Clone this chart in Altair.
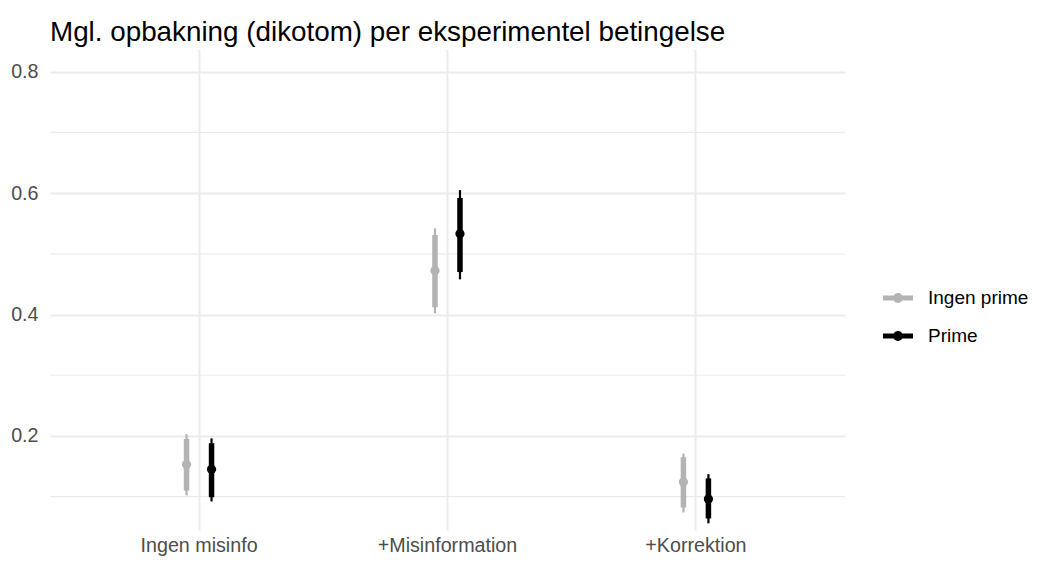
import altair as alt
import pandas as pd

# ---- data ----
conditions = ["Ingen misinfo", "+Misinformation", "+Korrektion"]
groups = ["Ingen prime", "Prime"]

est_ingen = [0.153, 0.472, 0.124]
lo90_ingen = [0.110, 0.412, 0.082]
hi90_ingen = [0.195, 0.531, 0.165]
lo95_ingen = [0.102, 0.402, 0.074]
hi95_ingen = [0.203, 0.542, 0.171]

est_prime = [0.145, 0.533, 0.096]
lo90_prime = [0.099, 0.470, 0.064]
hi90_prime = [0.188, 0.592, 0.130]
lo95_prime = [0.092, 0.458, 0.056]
hi95_prime = [0.196, 0.605, 0.137]

major_ticks = [0.2, 0.4, 0.6, 0.8]
minor_ticks = [0.1, 0.3, 0.5, 0.7]

title_text = "Mgl. opbakning (dikotom) per eksperimentel betingelse"

rows = []
for i, c in enumerate(conditions):
    rows.append(dict(cond=c, grp=groups[0], est=est_ingen[i], lo90=lo90_ingen[i],
                     hi90=hi90_ingen[i], lo95=lo95_ingen[i], hi95=hi95_ingen[i]))
    rows.append(dict(cond=c, grp=groups[1], est=est_prime[i], lo90=lo90_prime[i],
                     hi90=hi90_prime[i], lo95=lo95_prime[i], hi95=hi95_prime[i]))
df = pd.DataFrame(rows)
minor_df = pd.DataFrame({"v": minor_ticks})

FONT = "Liberation Sans"
GRID = "#EBEBEB"
AX = 19.7

yscale = alt.Scale(domain=[0.045, 0.8375], nice=False, zero=False)
xscale = alt.Scale(type="band", domain=conditions, paddingInner=0, paddingOuter=0.1)
color_scale = alt.Scale(domain=groups, range=["#B3B3B3", "#000000"])
offset_scale = alt.Scale(domain=groups, range=[99.2, 149.2], paddingInner=0, paddingOuter=0)

x_enc = alt.X("cond:N", scale=xscale, sort=conditions,
              axis=alt.Axis(title=None, labelAngle=0, grid=True, gridColor=GRID, gridWidth=2,
                            domain=False, ticks=False, tickSize=0, labelFontSize=AX,
                            labelColor="#4D4D4D", labelFont=FONT, labelPadding=5))
xoff = alt.XOffset("grp:N", scale=offset_scale, sort=groups)
leg = alt.Legend(title=None, orient="none", legendX=833, legendY=234,
                 labelFontSize=19, labelFont=FONT, labelColor="#000000",
                 symbolType="M-1,-0.17L1,-0.17L1,0.17L-1,0.17Z M0.33,0A0.33,0.33,0,1,1,-0.33,0A0.33,0.33,0,1,1,0.33,0Z",
                 symbolSize=900, symbolStrokeWidth=0, symbolOpacity=1,
                 labelOffset=15, rowPadding=13, padding=0)
col = alt.Color("grp:N", scale=color_scale, sort=groups, legend=leg)

minor = alt.Chart(minor_df).mark_rule(color=GRID, strokeWidth=1.2).encode(
    y=alt.Y("v:Q", scale=yscale)
)

base = alt.Chart(df)

thin = base.mark_rule(strokeWidth=2.2).encode(
    x=x_enc, xOffset=xoff,
    y=alt.Y("lo95:Q", scale=yscale,
            axis=alt.Axis(title=None, values=major_ticks, format=".1f", grid=True,
                          gridColor=GRID, gridWidth=2, domain=False, ticks=False, tickSize=0,
                          labelFontSize=AX, labelColor="#4D4D4D", labelFont=FONT,
                          labelPadding=12)),
    y2="hi95:Q",
    color=col,
)

thick = base.mark_rule(strokeWidth=5.5).encode(
    x=x_enc, xOffset=xoff,
    y=alt.Y("lo90:Q", scale=yscale),
    y2="hi90:Q",
    color=col,
)

pts = base.mark_point(filled=True, size=85, opacity=1).encode(
    x=x_enc, xOffset=xoff,
    y=alt.Y("est:Q", scale=yscale),
    color=col,
)

chart = alt.layer(minor, thin, thick, pts).properties(
    width=795, height=481,
    title=alt.Title(title_text, anchor="start", frame="group", fontSize=27.8, font=FONT,
                    fontWeight="normal", color="#000000", offset=2),
    padding={"left": 42, "top": 41, "right": 185, "bottom": 47},
    autosize=alt.AutoSizeParams(type="none"),
    background="white",
).configure_view(strokeWidth=0, stroke=None)

chart.save("out.html", embed_options={"renderer": "svg", "actions": False})
